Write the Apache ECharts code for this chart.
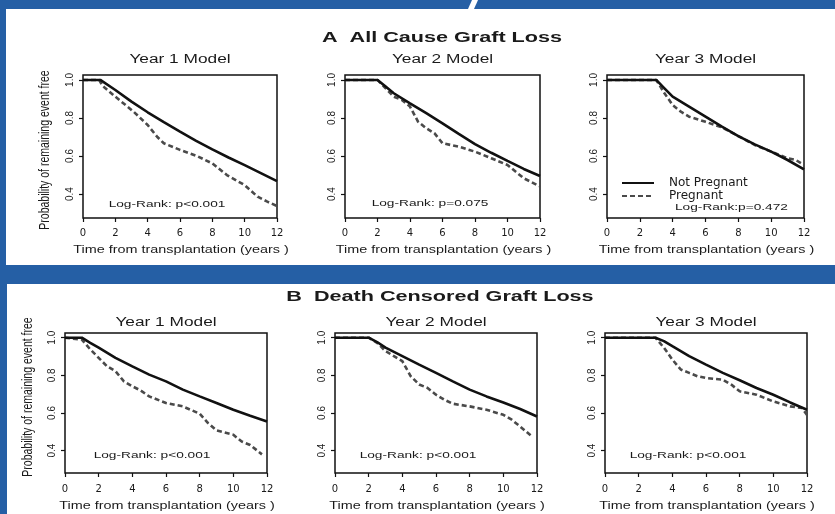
<!DOCTYPE html>
<html><head><meta charset="utf-8">
<script src="https://cdn.jsdelivr.net/npm/echarts@6/dist/echarts.min.js"></script>
<style>html,body{margin:0;padding:0;background:#255FA5}#c{width:835px;height:514px}</style>
</head><body><div id="c"></div>
<script>
// ---------- DATA ----------
const seriesNames = ['Not Pregnant', 'Pregnant'];
const sectionTitles = ['A  All Cause Graft Loss', 'B  Death Censored Graft Loss'];
const panelTitles = ['Year 1 Model', 'Year 2 Model', 'Year 3 Model'];
const xAxisTitle = 'Time from transplantation (years )';
const yAxisTitle = 'Probability of remaining event free';
const xTickValues = [0, 2, 4, 6, 8, 10, 12];
const yTickValues = [0.4, 0.6, 0.8, 1.0];
const pValueNotes = ['Log-Rank: p<0.001', 'Log-Rank: p=0.075', 'Log-Rank:p=0.472',
                     'Log-Rank: p<0.001', 'Log-Rank: p<0.001', 'Log-Rank: p<0.001'];

// A - All cause graft loss
const A1_not_t  = [0, 1.07, 2, 3, 4, 5, 6, 7, 8, 9, 10, 11, 12];
const A1_not_p  = [1, 1, 0.947, 0.886, 0.83, 0.778, 0.728, 0.68, 0.635, 0.592, 0.552, 0.51, 0.468];
const A1_preg_t = [0, 1, 1.2, 2, 3.13, 4, 4.6, 5, 6, 7.05, 8, 8.9, 10, 10.8, 11.4, 12];
const A1_preg_p = [1, 1, 0.97, 0.912, 0.833, 0.763, 0.70, 0.667, 0.632, 0.60, 0.561, 0.50, 0.447, 0.386, 0.36, 0.337];

const A2_not_t  = [0, 2, 2.5, 3, 4, 5, 6, 7, 8, 9, 10, 11, 12];
const A2_not_p  = [1, 1, 0.965, 0.93, 0.877, 0.825, 0.772, 0.716, 0.663, 0.617, 0.574, 0.532, 0.495];
const A2_preg_t = [0, 2, 3, 3.5, 4, 4.5, 5, 5.5, 6, 7, 8, 9, 10, 11, 12];
const A2_preg_p = [1, 1, 0.912, 0.895, 0.86, 0.78, 0.746, 0.72, 0.667, 0.649, 0.623, 0.588, 0.553, 0.483, 0.44];

const A3_not_t  = [0, 3, 3.5, 4, 5, 6, 7, 8, 9, 10, 11, 12];
const A3_not_p  = [1, 1, 0.956, 0.912, 0.86, 0.807, 0.754, 0.705, 0.661, 0.623, 0.579, 0.53];
const A3_preg_t = [0, 3, 3.5, 4, 4.5, 5, 6, 7, 8, 9, 10, 11, 11.5, 12];
const A3_preg_p = [1, 1, 0.93, 0.868, 0.833, 0.807, 0.78, 0.751, 0.705, 0.658, 0.623, 0.588, 0.579, 0.553];

// B - Death censored graft loss
const B1_not_t  = [0, 1, 1.5, 2, 3, 4, 5, 6, 7, 8, 9, 10, 11, 12];
const B1_not_p  = [1, 1, 0.973, 0.947, 0.893, 0.848, 0.804, 0.768, 0.724, 0.688, 0.653, 0.617, 0.585, 0.555];
const B1_preg_t = [0, 1, 1.5, 2, 2.5, 3, 3.5, 4, 4.5, 5, 6, 7, 8, 8.5, 9, 10, 10.5, 11, 11.7];
const B1_preg_p = [1, 0.99, 0.938, 0.893, 0.848, 0.822, 0.768, 0.742, 0.719, 0.688, 0.653, 0.635, 0.596, 0.546, 0.507, 0.484, 0.448, 0.43, 0.38];

const B2_not_t  = [0, 2, 2.5, 3, 4, 5, 6, 7, 8, 9, 10, 11, 12];
const B2_not_p  = [1, 1, 0.977, 0.947, 0.902, 0.857, 0.813, 0.768, 0.724, 0.688, 0.656, 0.621, 0.581];
const B2_preg_t = [0, 2, 2.5, 3, 3.5, 4, 4.5, 5, 5.5, 6, 6.5, 7, 8, 9, 10, 10.5, 11, 11.7];
const B2_preg_p = [1, 1, 0.973, 0.929, 0.902, 0.875, 0.795, 0.751, 0.733, 0.697, 0.67, 0.649, 0.635, 0.617, 0.59, 0.564, 0.528, 0.475];

const B3_not_t  = [0, 3, 3.5, 4, 5, 6, 7, 8, 9, 10, 11, 12];
const B3_not_p  = [1, 1, 0.982, 0.955, 0.902, 0.857, 0.813, 0.774, 0.733, 0.697, 0.656, 0.617];
const B3_preg_t = [0, 3, 3.5, 4, 4.5, 5, 5.5, 6, 7, 7.5, 8, 9, 10, 11, 11.7, 12];
const B3_preg_p = [1, 1, 0.947, 0.884, 0.831, 0.813, 0.795, 0.786, 0.777, 0.751, 0.715, 0.697, 0.661, 0.635, 0.626, 0.59];

const curves = [
  [[A1_not_t, A1_not_p], [A1_preg_t, A1_preg_p]],
  [[A2_not_t, A2_not_p], [A2_preg_t, A2_preg_p]],
  [[A3_not_t, A3_not_p], [A3_preg_t, A3_preg_p]],
  [[B1_not_t, B1_not_p], [B1_preg_t, B1_preg_p]],
  [[B2_not_t, B2_not_p], [B2_preg_t, B2_preg_p]],
  [[B3_not_t, B3_not_p], [B3_preg_t, B3_preg_p]]
];

// ---------- LAYOUT / STYLE ----------
const layout = [
  {left: 83,  top: 75,  width: 194, height: 143, yMin: 0.274, yMax: 1.026, note: [167, 204], titleY: 60,  xtY: 250, lblM: 10},
  {left: 345, top: 75,  width: 195, height: 143, yMin: 0.274, yMax: 1.026, note: [430, 203], titleY: 60,  xtY: 250, lblM: 10},
  {left: 607, top: 75,  width: 197, height: 143, yMin: 0.274, yMax: 1.026, note: null,       titleY: 60,  xtY: 250, lblM: 10},
  {left: 65,  top: 333, width: 202, height: 140, yMin: 0.281, yMax: 1.025, note: [152, 455], titleY: 323, xtY: 506, lblM: 11},
  {left: 335, top: 333, width: 202, height: 140, yMin: 0.281, yMax: 1.025, note: [418, 455], titleY: 323, xtY: 506, lblM: 11},
  {left: 605, top: 333, width: 202, height: 140, yMin: 0.281, yMax: 1.025, note: [688, 455], titleY: 323, xtY: 506, lblM: 11}
];
const SX = 1.44;
const INK = '#1a1a1a';
const lineStyles = [
  {color: '#111111', width: 2.6, type: 'solid'},
  {color: '#4a4a4a', width: 2.6, type: [5, 3]}
];

function txt(x, y, text, size, extra) {
  extra = extra || {};
  const align = extra.align || 'center';
  return {
    type: 'text', x: x, y: y, z: 20,
    scaleX: extra.scaleX != null ? extra.scaleX : SX,
    scaleY: extra.scaleY != null ? extra.scaleY : 1,
    rotation: extra.rotation || 0,
    style: {
      text: text, fontSize: size, fontFamily: 'Liberation Sans',
      fontWeight: extra.bold ? 'bold' : 'normal', fill: INK,
      align: align, verticalAlign: 'middle', textAlign: align, textVerticalAlign: 'middle'
    }
  };
}

const grids = [], xAxes = [], yAxes = [], series = [], graphics = [];

graphics.push({type: 'rect', z: -10, shape: {x: 6, y: 9, width: 829, height: 256}, style: {fill: '#ffffff'}});
graphics.push({type: 'rect', z: -10, shape: {x: 7, y: 284, width: 828, height: 230}, style: {fill: '#ffffff'}});
graphics.push({type: 'polygon', z: -10, shape: {points: [[472, 0], [478, 0], [474, 9], [468, 9]]}, style: {fill: '#ffffff'}});

graphics.push(txt(442, 38, sectionTitles[0], 15, {bold: true}));
graphics.push(txt(440, 297, sectionTitles[1], 15, {bold: true}));

layout.forEach((L, i) => {
  grids.push({left: L.left, top: L.top, width: L.width, height: L.height,
    show: true, borderColor: '#111', borderWidth: 1.5, backgroundColor: 'transparent', containLabel: false});
  xAxes.push({
    type: 'value', gridIndex: i, min: 0, max: 12, interval: 2,
    axisLine: {show: false},
    axisTick: {show: true, length: 4, lineStyle: {color: '#111', width: 1.2}},
    axisLabel: {fontFamily: 'DejaVu Sans', fontSize: 10, color: INK, margin: L.lblM,
      customValues: xTickValues},
    splitLine: {show: false}
  });
  yAxes.push({
    type: 'value', gridIndex: i, min: L.yMin, max: L.yMax,
    axisLine: {show: false},
    axisTick: {show: true, length: 4, customValues: yTickValues, lineStyle: {color: '#111', width: 1.2}},
    axisLabel: {customValues: yTickValues, rotate: 90, fontFamily: 'Liberation Sans', fontSize: 10,
      color: INK, margin: 8, formatter: v => Number(v).toFixed(1)},
    splitLine: {show: false}
  });
  curves[i].forEach((c, k) => {
    series.push({
      type: 'line', name: seriesNames[k], xAxisIndex: i, yAxisIndex: i,
      data: c[0].map((t, j) => [t, c[1][j]]),
      symbol: 'none', silent: true, z: k === 0 ? 4 : 3,
      lineStyle: lineStyles[k], itemStyle: {color: lineStyles[k].color}
    });
  });
  const cx = L.left + L.width / 2;
  graphics.push(txt(cx, L.titleY, panelTitles[i % 3], 12));
  graphics.push(txt(cx + 1, L.xtY, xAxisTitle, 10));
  if (L.note) graphics.push(txt(L.note[0], L.note[1], pValueNotes[i], 9.5));
});

// y axis titles (only on Year 1 panels)
graphics.push(txt(45, 150, yAxisTitle, 10.5, {scaleX: 1, scaleY: SX, rotation: Math.PI / 2}));
graphics.push(txt(28, 397, yAxisTitle, 10.5, {scaleX: 1, scaleY: SX, rotation: Math.PI / 2}));
// log-rank line inside the Year 3 legend
graphics.push(txt(675, 207, pValueNotes[2], 9.5, {align: 'left'}));

const chart = echarts.init(document.getElementById('c'), null, {renderer: 'canvas', width: 835, height: 514});
chart.setOption({
  animation: false,
  backgroundColor: '#255FA5',
  grid: grids, xAxis: xAxes, yAxis: yAxes, series: series,
  legend: {
    data: seriesNames, orient: 'vertical', left: 621, top: 177, padding: 0,
    itemWidth: 32, itemHeight: 11, itemGap: 1, selectedMode: false,
    itemStyle: {opacity: 0},
    textStyle: {fontFamily: 'DejaVu Sans', fontSize: 12, lineHeight: 11, color: INK, padding: [0, 0, 0, 10]}
  },
  graphic: graphics
});
</script></body></html>
